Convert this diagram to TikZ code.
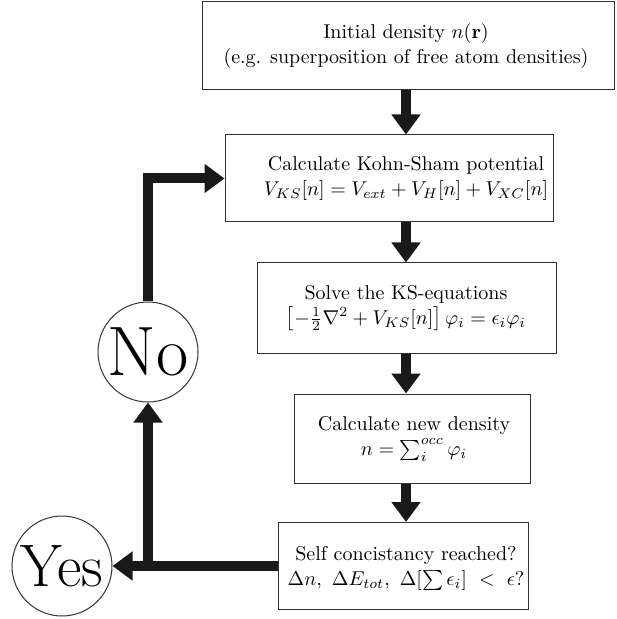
\documentclass[tikz,border=0pt]{standalone}
\usetikzlibrary{arrows.meta}
\begin{document}
\begin{tikzpicture}[x=0.5pt,y=-0.5pt,
  box/.style={draw=black!80,line width=0.5pt,inner sep=0pt},
  txt/.style={align=center,inner sep=0pt,font=\fontsize{10}{12.5}\selectfont},
  circ/.style={draw=black!80,line width=0.5pt,circle,inner sep=0pt,minimum size=50pt},
  flow/.style={line width=5pt,black!90,-{Triangle[width=14pt,length=10pt]}},
  plain/.style={line width=5pt,black!90}]
\useasboundingbox (0,0) rectangle (616,619);
\coordinate (ax) at (406,0);
\node[box,minimum width=206pt,minimum height=44pt] (b1) at (408,46) {};
\node[box,minimum width=164pt,minimum height=43.5pt] (b2) at (389,178.5) {};
\node[box,minimum width=149.5pt,minimum height=45pt] (b3) at (406.5,308) {};
\node[box,minimum width=118pt,minimum height=44.5pt] (b4) at (412,438.5) {};
\node[box,minimum width=125pt,minimum height=43.5pt] (b5) at (403,566) {};
\node[txt] (t1) at (b1.center -| ax) {Initial density $n(\mathbf{r})$\\(e.g. superposition of free atom densities)};
\node[txt] (t2) at (b2.center -| ax) {Calculate Kohn-Sham potential\\$V_{KS}[n]=V_{ext}+V_H[n]+V_{XC}[n]$};
\node[txt] (t3) at (b3.center -| ax) {Solve the KS-equations\\$\left[-\frac{1}{2}\nabla^2+V_{KS}[n]\right]\varphi_i=\epsilon_i\varphi_i$};
\node[txt] (t4) at ([xshift=4pt]b4.center -| ax) {Calculate new density\\$n=\sum_i^{occ}\varphi_i$};
\node[txt] (t5) at ([yshift=-1pt]b5.center -| ax) {Self concistancy reached?\\$\Delta n,\ \Delta E_{tot},\ \Delta[\sum\epsilon_i]\ <\ \epsilon$?};
\node[circ,font=\fontsize{30}{30}\selectfont] (yes) at (62,566) {Yes};
\node[circ,font=\fontsize{35}{35}\selectfont] (no) at (148,352) {No};
\coordinate (j) at (148,566);
\draw[flow] (b1.south -| ax) -- (b2.north -| ax);
\draw[flow] (b2.south -| ax) -- (b3.north -| ax);
\draw[flow] (b3.south -| ax) -- (b4.north -| ax);
\draw[flow] (b4.south -| ax) -- (b5.north -| ax);
\draw[flow] (b5.west) -- (yes.east);
\draw[flow] (j) -- (no.south);
\draw[flow] (no.north) |- (b2.west);
\end{tikzpicture}
\end{document}
